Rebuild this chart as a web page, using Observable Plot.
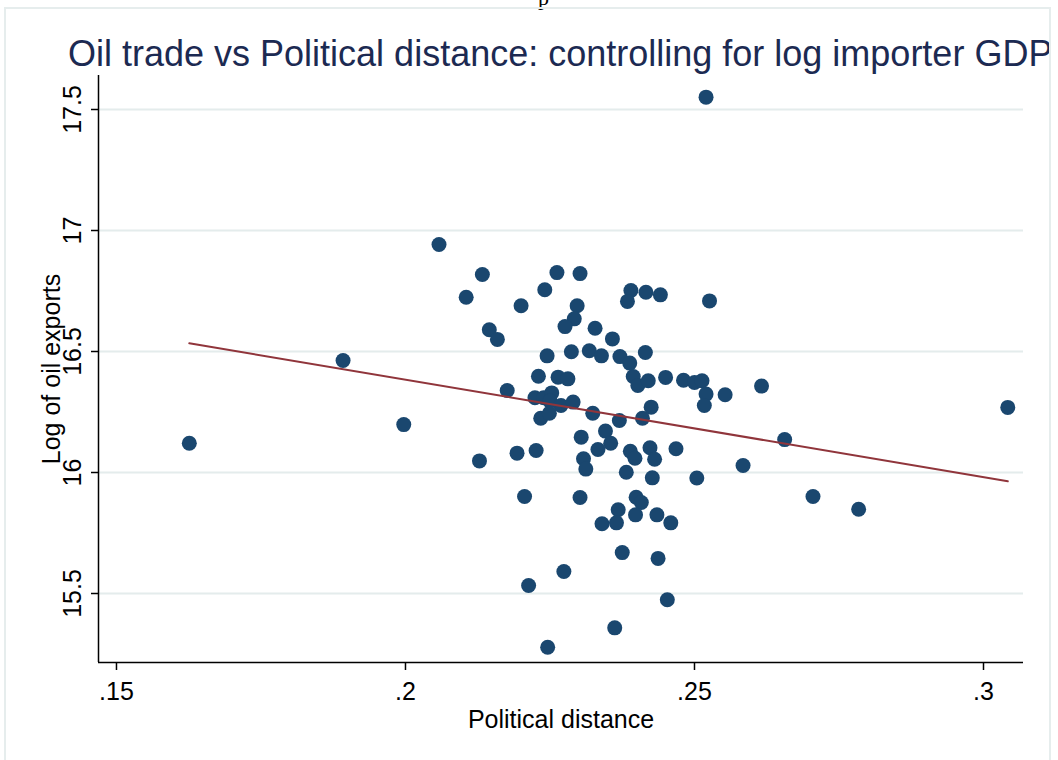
<!DOCTYPE html>
<html>
<head>
<meta charset="utf-8">
<script src="https://cdn.jsdelivr.net/npm/d3@7"></script>
<script src="https://cdn.jsdelivr.net/npm/@observablehq/plot@0.6"></script>
<style>
html, body { margin: 0; padding: 0; background: #fff; }
#wrap { position: relative; width: 1058px; height: 760px; overflow: hidden; font-family: "Liberation Sans", Arial, Helvetica, sans-serif; }
#frame { position: absolute; left: 4px; top: 7px; width: 1047px; height: 820px; border: 2px solid #e6eded; box-sizing: border-box; overflow: hidden; }
#chart { position: absolute; left: 0; top: 0; }
#title { position: absolute; left: 62px; top: 27px; font-size: 36px; line-height: 36px; color: #1c2a52; white-space: nowrap; }
#stray { position: absolute; left: 538px; top: -13px; font-family: "Liberation Serif", serif; font-size: 22px; line-height: 22px; color: #000; }
</style>
</head>
<body>
<div id="wrap">
  <div id="stray">p</div>
  <div id="frame"><div id="title">Oil trade vs Political distance: controlling for log importer GDP</div></div>
  <div id="chart"></div>
</div>
<script>
// Political distance (x) and log of oil exports (y)
const polDist = [0.1626,0.1892,0.1997,0.2058,0.2105,0.2128,0.2133,0.2145,0.2159,0.2262,0.2302,0.2241,0.2200,0.2297,0.2292,0.2276,0.2390,0.2384,0.2416,0.2441,0.2526,0.2328,0.2358,0.2245,0.2287,0.2318,0.2339,0.2371,0.2388,0.2415,0.2230,0.2264,0.2281,0.2176,0.2394,0.2402,0.2420,0.2450,0.2481,0.2500,0.2513,0.2520,0.2517,0.2553,0.2616,0.2224,0.2239,0.2253,0.2250,0.2269,0.2290,0.2234,0.2249,0.2324,0.2370,0.2410,0.2425,0.2656,0.2304,0.2346,0.2355,0.2333,0.2389,0.2397,0.2423,0.2431,0.2468,0.2308,0.2312,0.2193,0.2226,0.2382,0.2427,0.2504,0.2584,0.2206,0.2302,0.2399,0.2408,0.2368,0.2398,0.2435,0.2340,0.2365,0.2459,0.2375,0.2437,0.2274,0.2213,0.2453,0.2362,0.2246,0.3042,0.2705,0.2784,0.2520];
const logOil = [16.121,16.463,16.198,16.942,16.724,16.048,16.818,16.590,16.550,16.826,16.822,16.755,16.689,16.689,16.635,16.603,16.752,16.707,16.745,16.734,16.709,16.596,16.552,16.482,16.499,16.503,16.482,16.479,16.452,16.496,16.398,16.394,16.387,16.339,16.397,16.360,16.379,16.393,16.381,16.372,16.379,16.324,16.277,16.321,16.357,16.309,16.309,16.329,16.295,16.277,16.291,16.224,16.245,16.245,16.215,16.224,16.270,16.136,16.146,16.171,16.121,16.095,16.088,16.059,16.102,16.055,16.098,16.057,16.014,16.080,16.091,16.001,15.978,15.977,16.029,15.901,15.897,15.898,15.876,15.846,15.825,15.825,15.788,15.792,15.792,15.669,15.645,15.591,15.533,15.474,15.358,15.278,16.269,15.901,15.848,17.551];

// Fitted line endpoints
const fitX = [0.1626, 0.3042];
const fitY = [16.534, 15.964];

// Axes
const xTicks = [0.15, 0.2, 0.25, 0.3];
const xTickLabels = [".15", ".2", ".25", ".3"];
const yTicks = [15.5, 16, 16.5, 17, 17.5];
const yTickLabels = ["15.5", "16", "16.5", "17", "17.5"];
const xDomain = [0.14689, 0.30692];
const yDomain = [15.2149, 17.6405];
const xTitle = "Political distance";
const yTitle = "Log of oil exports";

const points = polDist.map((x, i) => ({x, y: logOil[i]}));
const fit = fitX.map((x, i) => ({x, y: fitY[i]}));

const chart = Plot.plot({
  width: 1058,
  height: 760,
  marginLeft: 98,
  marginRight: 35,
  marginTop: 75,
  marginBottom: 98,
  style: {fontFamily: "'Liberation Sans', Arial, Helvetica, sans-serif", fontSize: "25px", background: "transparent", color: "#000"},
  x: {domain: xDomain},
  y: {domain: yDomain},
  marks: [
    Plot.gridY(yTicks, {stroke: "#e4ecec", strokeOpacity: 1, strokeWidth: 2}),
    Plot.ruleX([xDomain[0]], {stroke: "#000", strokeWidth: 1.5}),
    Plot.ruleY([yDomain[0]], {stroke: "#000", strokeWidth: 1.5}),
    Plot.axisY(yTicks, {tickSize: 7, fill: "none", label: null, strokeWidth: 1.5, stroke: "#000"}),
    Plot.axisX(xTicks, {tickSize: 8, fill: "none", label: null, strokeWidth: 1.5, stroke: "#000"}),
    Plot.text(yTicks, {y: d => d, text: (d, i) => yTickLabels[i], frameAnchor: "left", dx: -26, rotate: -90, textAnchor: "middle", lineAnchor: "middle", fontSize: 25, fill: "#000"}),
    Plot.text(xTicks, {x: d => d, text: (d, i) => xTickLabels[i], frameAnchor: "bottom", dy: 29, textAnchor: "middle", lineAnchor: "middle", fontSize: 25, fill: "#000"}),
    Plot.text([yTitle], {text: d => d, frameAnchor: "left", dx: -47, rotate: -90, textAnchor: "middle", lineAnchor: "middle", fontSize: 25, fill: "#000"}),
    Plot.text([xTitle], {text: d => d, frameAnchor: "bottom", dy: 57, textAnchor: "middle", lineAnchor: "middle", fontSize: 25, fill: "#000"}),
    Plot.dot(points, {x: "x", y: "y", r: 7.5, fill: "#1a476f", stroke: "none"}),
    Plot.line(fit, {x: "x", y: "y", stroke: "#90353b", strokeWidth: 2})
  ]
});
document.getElementById("chart").appendChild(chart);
</script>
</body>
</html>
